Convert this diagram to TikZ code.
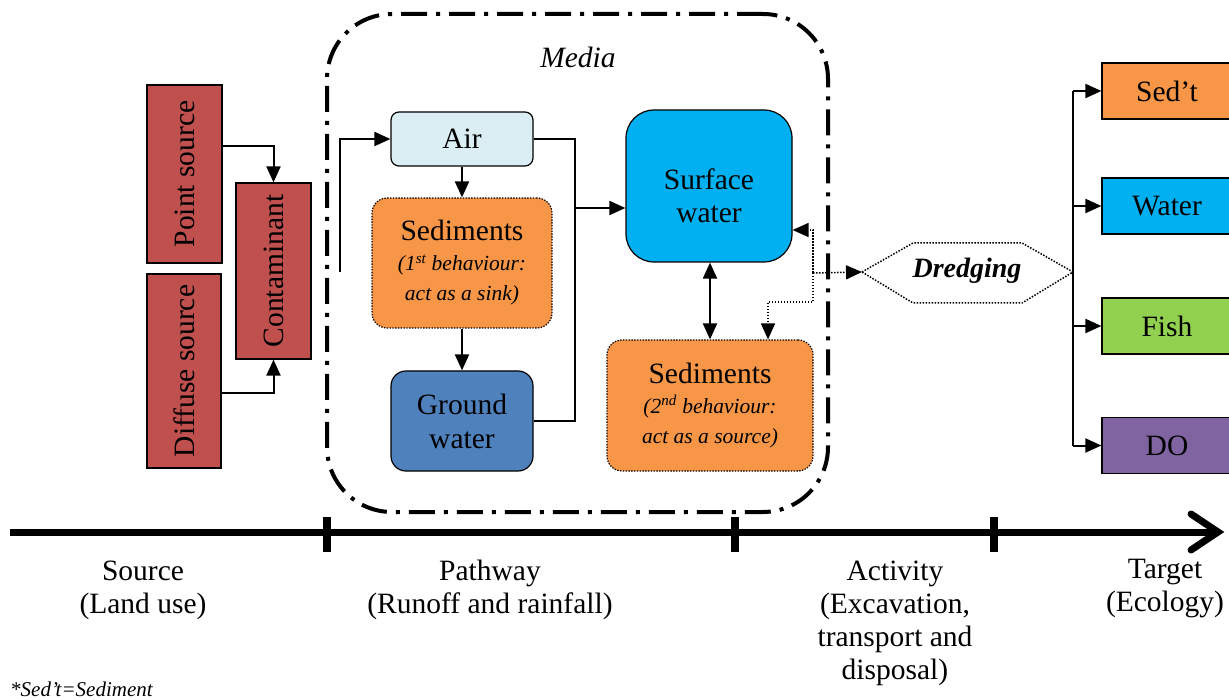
\documentclass[tikz,border=0pt]{standalone}
\usepackage{fontspec}
\setmainfont{Liberation Serif}
\usetikzlibrary{arrows.meta}
\definecolor{redbox}{HTML}{C0504D}
\definecolor{airc}{HTML}{DAEEF3}
\definecolor{orangec}{HTML}{F79646}
\definecolor{gwc}{HTML}{4F81BD}
\definecolor{swc}{HTML}{00B0F0}
\definecolor{fishc}{HTML}{92D050}
\definecolor{doc}{HTML}{8064A2}
\newcommand\mysubtxt{\fontsize{21.5}{25}\selectfont\itshape}
\begin{document}
\begin{tikzpicture}[x=1pt,y=-1pt,
  box/.style={draw=black, line width=1.2pt, inner sep=0pt, align=center, font=\fontsize{29.5}{34}\selectfont},
  sedbox/.style={box, dash pattern=on 1.4pt off 1.4pt, fill=orangec, rounded corners=15pt},
  conn/.style={line width=2pt, -{Triangle[length=16pt,width=14pt]}},
  plain/.style={line width=2pt},
  dconn/.style={line width=1.5pt, dash pattern=on 1.5pt off 1.5pt, -{Triangle[length=16pt,width=14pt]}},
  lbl/.style={align=center, font=\fontsize{29.5}{33}\selectfont, inner sep=0pt},
  tick/.style={line width=8pt}
]
\useasboundingbox (0,0) rectangle (1229,700);
\clip (0,0) rectangle (1229,700);

% media container
\node[draw=black, line width=4pt, dash pattern=on 26pt off 9pt on 4pt off 9pt, rounded corners=65pt,
  minimum width=501pt, minimum height=498pt, inner sep=0pt] (media) at (577.5,263) {};
\node[lbl, font=\fontsize{29.5}{33}\selectfont\itshape] (medialbl) at (578,57) {Media};

% source boxes
\node[box, fill=redbox, minimum width=75pt, minimum height=178pt] (ps) at (184.5,174) {\rotatebox{90}{Point source}};
\node[box, fill=redbox, minimum width=74pt, minimum height=194pt] (ds) at (184,371) {\rotatebox{90}{Diffuse source}};
\node[box, fill=redbox, minimum width=75pt, minimum height=176pt] (ct) at (273.5,271) {\rotatebox{90}{Contaminant}};

\draw[conn] ([yshift=28pt]ps.east) -| (ct.north);
\draw[conn] ([yshift=-22pt]ds.east) -| (ct.south);

% media boxes
\node[box, fill=airc, rounded corners=8pt, minimum width=142pt, minimum height=54pt] (air) at (462,139) {Air};
\node[sedbox, minimum width=180pt, minimum height=130pt] (s1) at (462,263)
  {Sediments\\[-4pt]{\mysubtxt (1\textsuperscript{st} behaviour:}\\[-4pt]{\mysubtxt act as a sink)}};
\node[box, fill=gwc, rounded corners=15pt, minimum width=142pt, minimum height=100pt] (gw) at (462,421) {Ground\\water};
\node[box, fill=swc, rounded corners=28pt, minimum width=166pt, minimum height=152pt] (sw) at (709,186) {};
\node[lbl] (swt) at (709,196) {Surface\\water};
\node[sedbox, minimum width=206pt, minimum height=131pt] (s2) at (710,405.5)
  {Sediments\\[-4pt]{\mysubtxt (2\textsuperscript{nd} behaviour:}\\[-4pt]{\mysubtxt act as a source)}};

\coordinate (inl) at (340,272);
\draw[conn] (inl) |- (air.west);
\draw[conn] (air.south) -- (s1.north);
\draw[conn] (s1.south) -- (gw.north);
\coordinate (jx) at (575,280);
\draw[plain] (air.east) -| (jx) |- (gw.east);
\coordinate (jy) at (575,208);
\draw[conn] (jy) -- (jy -| sw.west);
\draw[line width=2pt, {Triangle[length=16pt,width=14pt]}-{Triangle[length=16pt,width=14pt]}]
  (sw.south -| s2.north) -- (s2.north);

% dredging
\coordinate (drl) at (862,272);
\coordinate (drr) at (1073,272);
\draw[line width=1.5pt, dash pattern=on 1.5pt off 1.5pt]
  (drl) -- (913,243) -- (1022,243) -- (drr) -- (1022,303) -- (913,303) -- cycle;
\node[lbl, font=\fontsize{28}{33}\selectfont\bfseries\itshape] (dr) at (967,271) {Dredging};
\coordinate (J) at (813,273);
\draw[dconn] (J) -- (drl);
\draw[dconn] (J) |- ([yshift=-44pt]sw.east);
\draw[dconn] (J) -- (813,302) -| ([xshift=58pt]s2.north);

% targets
\node[box, fill=orangec, minimum width=130pt, minimum height=56pt] (sedt) at (1167,91) {Sed’t};
\node[box, fill=swc, minimum width=130pt, minimum height=56pt] (water) at (1167,206) {Water};
\node[box, fill=fishc, minimum width=130pt, minimum height=56pt] (fish) at (1167,326) {Fish};
\node[box, fill=doc, minimum width=130pt, minimum height=56pt] (do) at (1167,445.5) {DO};
\coordinate (rt) at (1073,91);
\coordinate (rb) at (1073,446);
\draw[plain] (rt) -- (rb);
\draw[conn] (rt |- sedt.west) -- (sedt.west);
\draw[conn] (rt |- water.west) -- (water.west);
\draw[conn] (rt |- fish.west) -- (fish.west);
\draw[conn] (rt |- do.west) -- (do.west);

% timeline
\coordinate (t0) at (10,532);
\coordinate (t1) at (1214,532);
\draw[line width=7pt] (t0) -- (t1);
\draw[line width=7pt, line cap=round, line join=miter] (1191,514) -- (1218,532) -- (1191,550);
\draw[tick] (327,517) -- (327,552);
\draw[tick] (735,517) -- (735,552);
\draw[tick] (994,517) -- (994,552);

\node[lbl] (src) at (143,590) {Source\\(Land use)};
\node[lbl] (pw) at (490,590) {Pathway\\(Runoff and rainfall)};
\node[lbl] (act) at (895,623) {Activity\\(Excavation,\\transport and\\disposal)};
\node[lbl] (tg) at (1165,589) {Target\\(Ecology)};
\node[anchor=base west, inner sep=0pt, font=\fontsize{21}{25}\selectfont\itshape] (fn) at (10,696) {*Sed’t=Sediment};
\end{tikzpicture}
\end{document}
